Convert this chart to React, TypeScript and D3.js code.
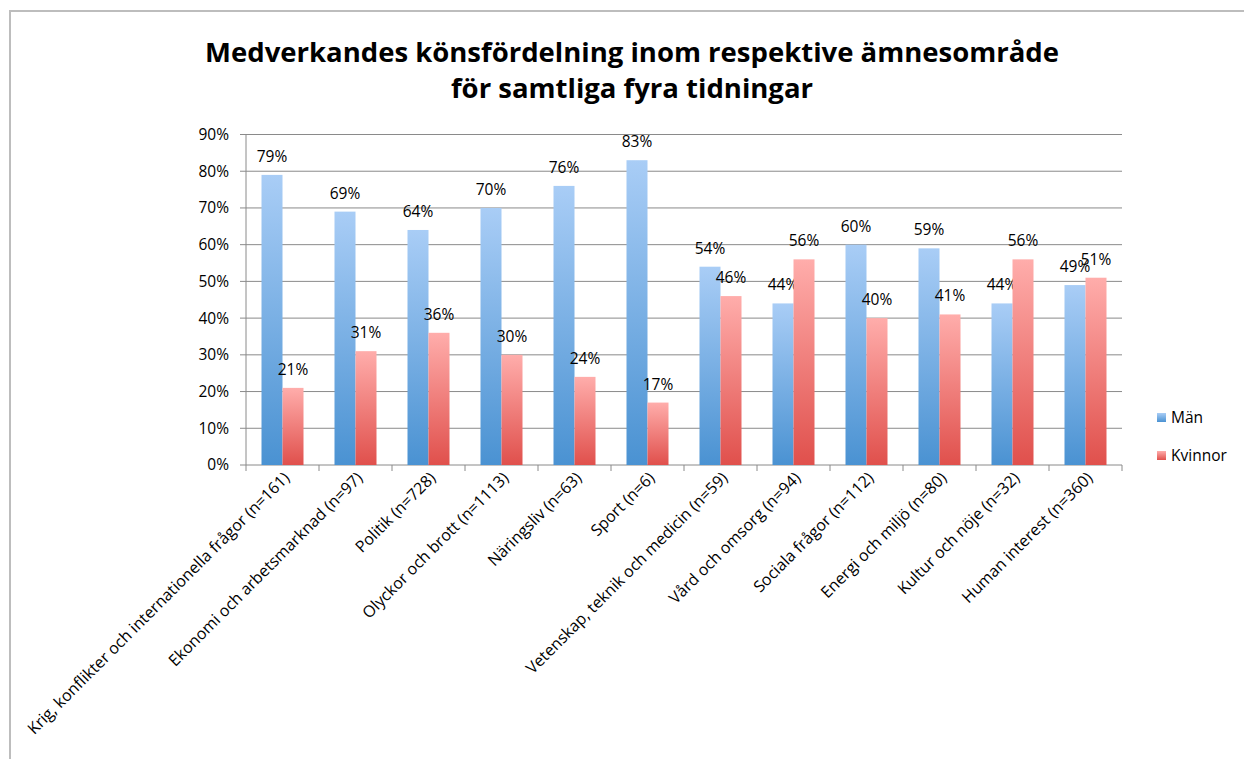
import React from "react";
import * as d3 from "d3";

const categories = [
  "Krig, konflikter och internationella frågor (n=161)",
  "Ekonomi och arbetsmarknad (n=97)",
  "Politik (n=728)",
  "Olyckor och brott (n=1113)",
  "Näringsliv (n=63)",
  "Sport (n=6)",
  "Vetenskap, teknik och medicin (n=59)",
  "Vård och omsorg (n=94)",
  "Sociala frågor (n=112)",
  "Energi och miljö (n=80)",
  "Kultur och nöje (n=32)",
  "Human interest (n=360)",
];
const man = [79, 69, 64, 70, 76, 83, 54, 44, 60, 59, 44, 49];
const kvinnor = [21, 31, 36, 30, 24, 17, 46, 56, 40, 41, 56, 51];
const yTicks = [0, 10, 20, 30, 40, 50, 60, 70, 80, 90];
const seriesNames = ["Män", "Kvinnor"];
const titleLines = [
  "Medverkandes könsfördelning inom respektive ämnesområde",
  "för samtliga fyra tidningar",
];

const W = 1244;
const H = 759;
const plot = { left: 246, right: 1122, top: 134.5, bottom: 465 };
const font = "'Open Sans', 'Liberation Sans', sans-serif";

export default function App() {
  const x = d3
    .scaleBand<string>()
    .domain(categories)
    .range([plot.left, plot.right])
    .paddingInner(0)
    .paddingOuter(0);
  const y = d3.scaleLinear().domain([0, 90]).range([plot.bottom, plot.top]);
  const bw = x.bandwidth();
  const groupW = 42;
  const barW = groupW / 2;
  const series = [man, kvinnor];
  const grads = ["gradBlue", "gradRed"];

  return (
    <svg
      width={W}
      height={H}
      style={{ position: "absolute", left: 0, top: 0, background: "#fff" }}
      fontFamily={font}
    >
      <defs>
        <linearGradient id="gradBlue" x1="0" y1="0" x2="0" y2="1">
          <stop offset="0%" stopColor="#a9cdf6" />
          <stop offset="100%" stopColor="#4a92d2" />
        </linearGradient>
        <linearGradient id="gradRed" x1="0" y1="0" x2="0" y2="1">
          <stop offset="0%" stopColor="#ffadab" />
          <stop offset="100%" stopColor="#e0504c" />
        </linearGradient>
      </defs>
      {/* frame */}
      <rect x={10} y={11} width={W + 20} height={H + 20} fill="none" stroke="#bdbdbd" strokeWidth={2} />

      {/* title */}
      {titleLines.map((t, i) => (
        <text
          key={i}
          x={632}
          y={62 + i * 36}
          textAnchor="middle"
          fontSize={27.5}
          fontWeight="bold"
          fill="#000"
        >
          {t}
        </text>
      ))}

      {/* gridlines */}
      {yTicks.map((t) => (
        <g key={t}>
          <line
            x1={plot.left - 6}
            x2={plot.right}
            y1={y(t)}
            y2={y(t)}
            stroke="#8a8a8a"
            strokeWidth={1}
          />
          <text
            x={plot.left - 17}
            y={y(t)}
            dy="0.35em"
            textAnchor="end"
            fontSize={15.5}
            fill="#000"
          >
            {t}%
          </text>
        </g>
      ))}
      {/* y axis */}
      <line x1={plot.left} x2={plot.left} y1={plot.top} y2={plot.bottom} stroke="#8a8a8a" />
      {/* x axis ticks */}
      {categories.concat([""]).map((c, i) => {
        const xx = plot.left + i * bw;
        return (
          <line key={i} x1={xx} x2={xx} y1={plot.bottom} y2={plot.bottom + 6} stroke="#8a8a8a" />
        );
      })}

      {/* bars */}
      {categories.map((c, i) => {
        const x0 = (x(c) as number) + (bw - groupW) / 2;
        return (
          <g key={c}>
            {series.map((s, j) => {
              const v = s[i];
              const bx = x0 + j * barW;
              return (
                <g key={j}>
                  <rect
                    x={bx}
                    y={y(v)}
                    width={barW}
                    height={plot.bottom - y(v)}
                    fill={`url(#${grads[j]})`}
                  />
                  <text
                    x={bx + barW / 2}
                    y={y(v) - 13}
                    textAnchor="middle"
                    fontSize={15.5}
                    fill="#000"
                  >
                    {v}%
                  </text>
                </g>
              );
            })}
          </g>
        );
      })}

      {/* category labels */}
      {categories.map((c) => {
        const cx = (x(c) as number) + bw / 2 + 8;
        const cy = plot.bottom + 14;
        return (
          <text
            key={c}
            transform={`translate(${cx},${cy}) rotate(-45)`}
            textAnchor="end"
            fontSize={16}
            fill="#000"
          >
            {c}
          </text>
        );
      })}

      {/* legend */}
      {seriesNames.map((n, j) => (
        <g key={n} transform={`translate(1157,${413 + j * 38})`}>
          <rect width={9} height={9} fill={`url(#${grads[j]})`} />
          <text x={14} y={10} fontSize={15.5} fill="#000">
            {n}
          </text>
        </g>
      ))}
    </svg>
  );
}
